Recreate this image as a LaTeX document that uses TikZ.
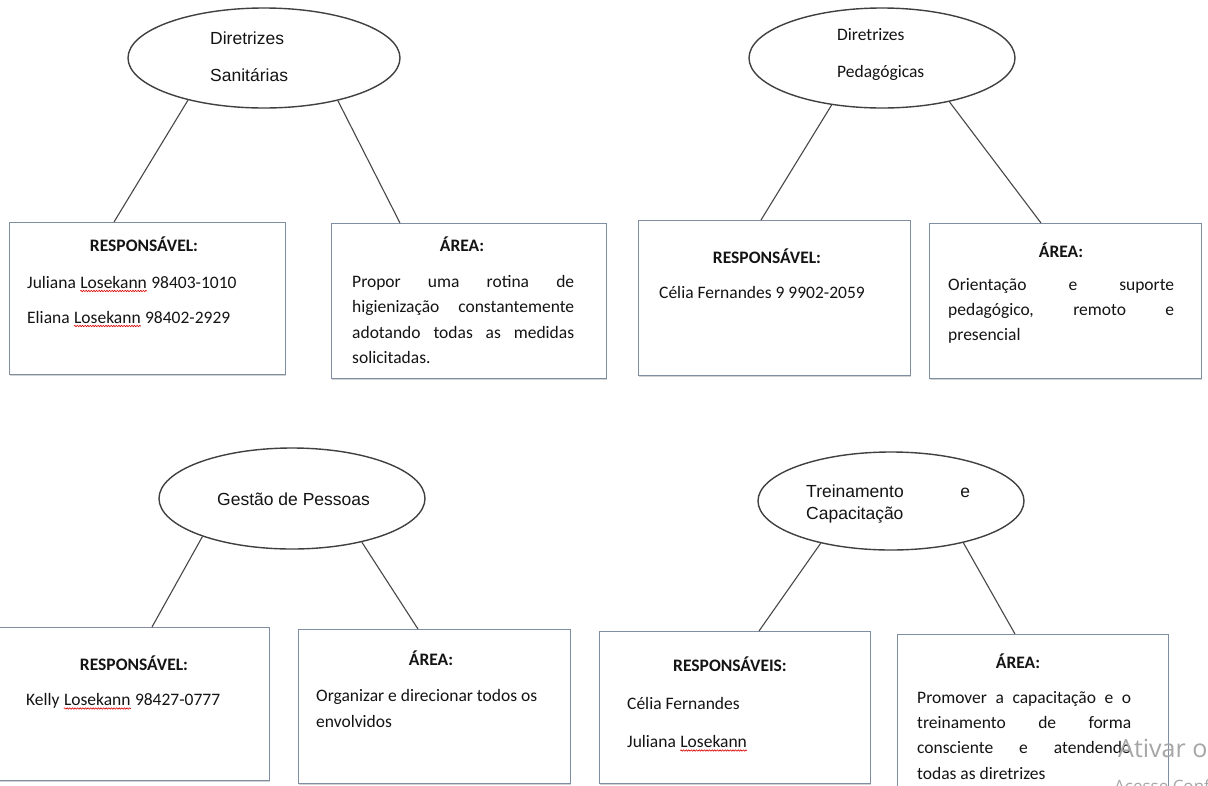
\documentclass[tikz,border=0pt]{standalone}
\usepackage{fontspec}
\setmainfont{Carlito}
\newfontfamily\arialf{Liberation Sans}
\newfontfamily\wmf{Open Sans}
\usetikzlibrary{shapes.geometric,decorations.pathmorphing,shadows}
\begin{document}
\begin{tikzpicture}[x=1pt,y=-1pt,
  oval/.style={draw=black!75, line width=1.4pt, ellipse, inner sep=0},
  conn/.style={draw=black!72, line width=1.1pt},
  box/.style={draw={rgb,255:red,128;green,142;blue,162}, line width=1.3pt, fill=white, anchor=north west, inner sep=0,
     drop shadow={shadow xshift=0.4pt, shadow yshift=-1.6pt, opacity=0.35}},
  txt/.style={inner sep=0, anchor=base west, font=\fontsize{17.5}{21}\selectfont, text=black!92},
  ctxt/.style={txt, anchor=base},
  hd/.style={ctxt, font=\fontsize{17.5}{21}\selectfont\bfseries},
  otxt/.style={txt, font=\arialf\fontsize{17.5}{21}\selectfont},
  sq/.style={draw=red!85!black, line width=0.6pt, decorate, decoration={snake, amplitude=0.7pt, segment length=2.6pt}},
  wm/.style={inner sep=0, anchor=base west, text=black!35}
]
\path[fill=white, use as bounding box] (0,0) rectangle (1208,785);

% ---------- top left: Diretrizes Sanitarias ----------
\node[oval, minimum width=272pt, minimum height=100pt] (e1) at (264,58) {};
\node[otxt] (e1a) at (210,44) {Diretrizes};
\node[otxt] (e1b) at (210,81) {Sanitárias};
\node[box, minimum width=276pt, minimum height=152pt] (r1) at (9,222) {};
\node[box, minimum width=275pt, minimum height=155pt] (a1) at (331,223) {};
\draw[conn] (e1.209) -- ([xshift=105pt]r1.north west);
\draw[conn] (e1.330) -- ([xshift=69pt]a1.north west);
\node[hd] (r1h) at (144,251) {RESPONSÁVEL:};
\node[txt] (j1a) at (27,288) {Juliana};
\node[txt] (j1b) at ([xshift=4pt]j1a.base east) {Losekann};
\node[txt] (j1c) at ([xshift=4pt]j1b.base east) {98403-1010};
\node[txt] (l1a) at (27,323) {Eliana};
\node[txt] (l1b) at ([xshift=4pt]l1a.base east) {Losekann};
\node[txt] (l1c) at ([xshift=4pt]l1b.base east) {98402-2929};
\draw[sq] ([yshift=-3pt]j1b.base west) -- ([yshift=-3pt]j1b.base east);
\draw[sq] ([yshift=-3pt]l1b.base west) -- ([yshift=-3pt]l1b.base east);
\node[hd] (a1h) at (462,251) {ÁREA:};
\node[txt] (a1p1) at (352,287.5) {\makebox[222pt]{Propor\hfill uma\hfill rotina\hfill de}};
\node[txt] (a1p2) at (352,312.8) {\makebox[222pt]{higienização\hfill constantemente}};
\node[txt] (a1p3) at (352,338.1) {\makebox[222pt]{adotando\hfill todas\hfill as\hfill medidas}};
\node[txt] (a1p4) at (352,363.4) {solicitadas.};

% ---------- top right: Diretrizes Pedagogicas ----------
\node[oval, minimum width=266pt, minimum height=100pt] (e2) at (882,58) {};
\node[txt] (e2a) at (837,40.5) {Diretrizes};
\node[txt] (e2b) at (837,77.5) {Pedagógicas};
\node[box, minimum width=272pt, minimum height=155pt] (r2) at (638,220) {};
\node[box, minimum width=272pt, minimum height=155pt] (a2) at (929,223) {};
\draw[conn] (e2.223) -- ([xshift=123pt]r2.north west);
\draw[conn] (e2.327) -- ([xshift=112pt]a2.north west);
\node[hd] (r2h) at (767,263.5) {RESPONSÁVEL:};
\node[txt] (r2t) at (659,298.5) {Célia Fernandes 9 9902-2059};
\node[hd] (a2h) at (1061,257.5) {ÁREA:};
\node[txt] (a2p1) at (948,290.5) {\makebox[226pt]{Orientação\hfill e\hfill suporte}};
\node[txt] (a2p2) at (948,315.5) {\makebox[226pt]{pedagógico,\hfill remoto\hfill e}};
\node[txt] (a2p3) at (948,340.5) {presencial};

% ---------- bottom left: Gestao de Pessoas ----------
\node[oval, minimum width=266pt, minimum height=101pt] (e3) at (292,498.5) {};
\node[otxt] (e3a) at (217,505) {Gestão de Pessoas};
\node[box, minimum width=272pt, minimum height=153pt] (r3) at (-3,627) {};
\node[box, minimum width=272pt, minimum height=154pt] (a3) at (298,629) {};
\draw[conn] (e3.203) -- ([xshift=155pt]r3.north west);
\draw[conn] (e3.328) -- ([xshift=120pt]a3.north west);
\node[hd] (r3h) at (134,670.5) {RESPONSÁVEL:};
\node[txt] (k3a) at (26,705.5) {Kelly};
\node[txt] (k3b) at ([xshift=4pt]k3a.base east) {Losekann};
\node[txt] (k3c) at ([xshift=4pt]k3b.base east) {98427-0777};
\draw[sq] ([yshift=-3pt]k3b.base west) -- ([yshift=-3pt]k3b.base east);
\node[hd] (a3h) at (431,665.5) {ÁREA:};
\node[txt] (a3p1) at (316,701.5) {Organizar e direcionar todos os};
\node[txt] (a3p2) at (316,727.5) {envolvidos};

% ---------- bottom right: Treinamento e Capacitacao ----------
\node[oval, minimum width=266pt, minimum height=98pt] (e4) at (891,501) {};
\node[otxt] (e4a) at (806,497) {\makebox[164pt]{Treinamento\hfill e}};
\node[otxt] (e4b) at (806,519) {Capacitação};
\node[box, minimum width=271pt, minimum height=152pt] (r4) at (599,631) {};
\node[box, minimum width=271pt, minimum height=160pt] (a4) at (897,634) {};
\draw[conn] (e4.211) -- ([xshift=160pt]r4.north west);
\draw[conn] (e4.330) -- ([xshift=118pt]a4.north west);
\node[hd] (r4h) at (730,671.5) {RESPONSÁVEIS:};
\node[txt] (r4t1) at (627,709.5) {Célia Fernandes};
\node[txt] (r4t2a) at (627,747.5) {Juliana};
\node[txt] (r4t2b) at ([xshift=4pt]r4t2a.base east) {Losekann};
\draw[sq] ([yshift=-3pt]r4t2b.base west) -- ([yshift=-3pt]r4t2b.base east);
\node[hd] (a4h) at (1018,668.5) {ÁREA:};
\node[txt] (a4p1) at (917,703.5) {\makebox[214pt]{Promover\hfill a\hfill capacitação\hfill e\hfill o}};
\node[txt] (a4p2) at (917,728.5) {\makebox[214pt]{treinamento\hfill de\hfill forma}};
\node[txt] (a4p3) at (917,753.5) {\makebox[214pt]{consciente\hfill e\hfill atendendo}};
\node[txt] (a4p4) at (917,779.5) {todas as diretrizes};

% ---------- watermark ----------
\node[wm, font=\wmf\fontsize{25}{30}\selectfont] (wm1) at (1118,757) {Ativar o Windows};
\node[wm, font=\wmf\fontsize{17}{20}\selectfont] (wm2) at (1114,792) {Acesse Configurações};
\end{tikzpicture}
\end{document}
